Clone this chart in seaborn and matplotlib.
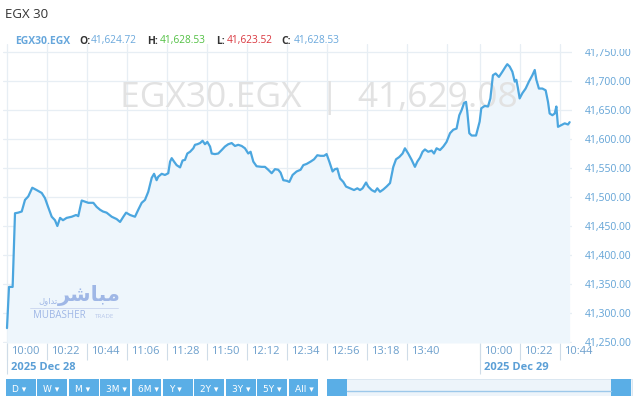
import numpy as np
import pandas as pd
import matplotlib
matplotlib.use("Agg")
import matplotlib.pyplot as plt
import matplotlib.transforms as mtransforms
from matplotlib.patches import Rectangle
import seaborn as sns

# ---------------- data ----------------
# minutes after 10:00 on 2025 Dec 28
day1_minutes = [0, 1.1, 3.1, 4.4, 6.1, 8.1, 9.9, 11.7, 13.9, 16.3, 19.1, 20.9, 22.6, 24.6, 26.4, 27.7,
                29.2, 30.8, 32.8, 35.6, 38.0, 39.2, 41.1, 42.9, 44.7, 47.5, 49.3, 51.2, 52.8, 54.8,
                57.6, 60.3, 62.2, 64.0, 65.5, 67.7, 70.4, 72.2, 74.1, 75.9, 77.7, 79.6, 80.9, 82.3,
                83.2, 85.1, 86.9, 88.7, 89.7, 90.6, 91.9, 93.3, 95.2, 96.6, 97.9, 99.2, 100.7, 102.5,
                103.4, 104.7, 106.2, 107.6, 108.9, 110.2, 111.7, 112.6, 114.4, 116.2, 118.1, 119.9,
                121.7, 123.6, 125.4, 127.2, 129.1, 130.9, 132.7, 134.0, 135.5, 137.3, 140.1, 141.9,
                143.7, 145.6, 147.4, 149.2, 150.5, 152.0, 153.8, 155.3, 157.1, 159.3, 161.5, 163.0,
                164.8, 167.0, 168.9, 170.7, 172.5, 174.4, 175.8, 177.3, 179.1, 180.4, 181.7, 183.2,
                185.0, 186.5, 188.7, 190.9, 192.7, 194.2, 195.6, 197.5, 198.7, 200.6, 202.4, 203.7,
                205.2, 207.0, 208.8, 210.7, 212.5, 214.0, 215.8, 217.6, 218.9, 220.7, 222.6, 224.4,
                225.7, 227.2, 228.6, 229.9, 231.7, 233.6, 234.9, 236.3, 238.2, 240.0, 241.8, 243.7,
                245.5, 247.3, 248.8, 250.1, 251.4, 252.5, 253.2, 254.3, 255.6, 258.0]
day1_values = [41274, 41345, 41345, 41472, 41473, 41475, 41495, 41501, 41516, 41512, 41507, 41498,
               41483, 41466, 41460, 41450, 41464, 41460, 41464, 41466, 41469, 41467, 41494, 41492,
               41490, 41490, 41483, 41478, 41475, 41473, 41466, 41462, 41457, 41466, 41473, 41469,
               41466, 41478, 41490, 41495, 41509, 41533, 41540, 41529, 41535, 41540, 41538, 41541,
               41561, 41567, 41561, 41555, 41551, 41563, 41564, 41575, 41578, 41584, 41590, 41591,
               41593, 41597, 41591, 41595, 41587, 41575, 41574, 41575, 41581, 41587, 41591, 41593,
               41588, 41590, 41588, 41584, 41575, 41578, 41561, 41553, 41552, 41552, 41547, 41541,
               41548, 41547, 41542, 41529, 41528, 41526, 41538, 41544, 41547, 41555, 41557, 41561,
               41565, 41572, 41571, 41571, 41574, 41561, 41544, 41548, 41549, 41532, 41526, 41518,
               41515, 41512, 41515, 41512, 41515, 41525, 41518, 41512, 41509, 41515, 41509, 41513,
               41518, 41524, 41552, 41565, 41569, 41575, 41584, 41575, 41564, 41552, 41561, 41568,
               41578, 41582, 41578, 41580, 41575, 41584, 41581, 41587, 41595, 41610, 41616, 41618,
               41641, 41650, 41662, 41664, 41647, 41610, 41606, 41606]
# minutes after 10:00 on 2025 Dec 29
day2_minutes = [0, 0.9, 2.8, 4.6, 5.9, 7.3, 8.8, 10.6, 12.5, 14.3, 15.2, 16.5, 18.0, 19.3, 20.2,
                21.1, 22.0, 23.5, 25.3, 27.1, 29.0, 30.3, 31.2, 32.6, 34.5, 36.3, 37.6, 38.5, 40.0,
                41.3, 42.2, 43.1, 44.9, 46.8, 48.6, 49.5]
day2_values = [41630, 41653, 41657, 41656, 41670, 41710, 41713, 41707, 41716, 41725, 41729, 41725,
               41716, 41699, 41702, 41687, 41670, 41679, 41687, 41699, 41710, 41719, 41702, 41687,
               41687, 41684, 41664, 41644, 41641, 41644, 41656, 41621, 41624, 41627, 41625, 41629]

day1_tick_labels = ["10:00", "10:22", "10:44", "11:06", "11:28", "11:50", "12:12", "12:34",
                    "12:56", "13:18", "13:40"]
day1_tick_minutes = [0, 22, 44, 66, 88, 110, 132, 154, 176, 198, 220]
day2_tick_labels = ["10:00", "10:22", "10:44"]
day2_tick_minutes = [0, 22, 44]
date_labels = ["2025 Dec 28", "2025 Dec 29"]
y_ticks = [41250, 41300, 41350, 41400, 41450, 41500, 41550, 41600, 41650, 41700, 41750]

symbol = "EGX30.EGX"
title = "EGX 30"
ohlc_open, ohlc_high, ohlc_low, ohlc_close = "41,624.72", "41,628.53", "41,623.52", "41,628.53"
last_price = "41,629.08"
range_buttons = ["D", "W", "M", "3M", "6M", "Y", "2Y", "3Y", "5Y", "All"]

# ---------------- layout constants ----------------
DAY2_OFFSET = 260        # ordinal gap compression: day 2 10:00 sits here on the axis
W, H = 640, 396
LINE = "#4ba6df"
FILL = "#eef6fc"
GRID = "#e7eef4"
LABEL = "#62a3d6"

df = pd.DataFrame({
    "t": list(day1_minutes) + [DAY2_OFFSET + m for m in day2_minutes],
    "v": list(day1_values) + list(day2_values),
})

sns.set_theme(style="white")
plt.rcParams["font.family"] = ["Open Sans", "DejaVu Sans"]

fig = plt.figure(figsize=(W / 100, H / 100), dpi=100)
fig.patch.set_facecolor("white")

def fx(px):
    return px / W

def fy(py):
    return 1 - py / H

ax = fig.add_axes([fx(3), fy(343), fx(572) - fx(3), fy(44) - fy(343)])
ax.set_facecolor("white")

xmin, xmax = -2.2, 310.8
ymin, ymax = 41248.3, 41763.8
ax.set_xlim(xmin, xmax)
ax.set_ylim(ymin, ymax)

ax.fill_between(df["t"], df["v"], ymin, color=FILL, zorder=1, linewidth=0)
sns.lineplot(data=df, x="t", y="v", ax=ax, color=LINE, linewidth=1.6, zorder=3, sort=False)
ax.set_xlabel("")
ax.set_ylabel("")

# watermark
ax.text(0.555, 0.82, f"{symbol}  |  {last_price}", transform=ax.transAxes, ha="center",
        va="center", fontsize=25.5, color="#e2e2e2", zorder=2)

# grid
ax.set_yticks(y_ticks)
major_x = list(day1_tick_minutes) + [DAY2_OFFSET + m for m in day2_tick_minutes]
ax.set_xticks(major_x)
ax.set_xticklabels(list(day1_tick_labels) + list(day2_tick_labels))
grid_x = major_x + [242]
for gx in grid_x:
    ax.axvline(gx, color=GRID, linewidth=0.9, zorder=0)
for gy in y_ticks:
    ax.axhline(gy, color=GRID, linewidth=0.9, zorder=0)
ax.grid(False)

for s in ax.spines.values():
    s.set_visible(False)

# y axis on the right
ax.yaxis.tick_right()
ax.set_yticklabels([f"{v:,.2f}" for v in y_ticks])
ax.tick_params(axis="y", length=0, pad=9, labelsize=7.5, labelcolor=LABEL)

# x tick separators + labels (left aligned next to the separator)
ax.tick_params(axis="x", which="both", bottom=True, top=False)
ax.tick_params(axis="x", which="major", direction="out", length=12, width=0.8,
               color="#cfdce8", pad=-10, labelsize=8, labelcolor="#6c9fcc")
off = mtransforms.ScaledTranslation(3 / 72, 0, fig.dpi_scale_trans)
for lbl in ax.get_xticklabels():
    lbl.set_horizontalalignment("left")
    lbl.set_transform(lbl.get_transform() + off)

ax.xaxis.remove_overlapping_locs = False
ax.set_xticks([0, DAY2_OFFSET], minor=True)
ax.set_xticklabels(date_labels, minor=True, fontweight="bold")
ax.tick_params(axis="x", which="minor", direction="out", length=22, width=0.8,
               color="#cfdce8", pad=-8.5, labelsize=8, labelcolor="#5b9fd6")
for lbl in ax.get_xticklabels(minor=True):
    lbl.set_horizontalalignment("left")
    lbl.set_transform(lbl.get_transform() + off)

# white band hiding top of axes region (header area)
fig.add_artist(Rectangle((fx(574), fy(49)), fx(640) - fx(574), fy(0) - fy(49),
                         transform=fig.transFigure, facecolor="white", edgecolor="none", zorder=5))

# header
fig.text(fx(5), fy(14), title, fontsize=9.5, color="#333333", va="center", ha="left")
hy = fy(41)
fig.text(fx(15), hy, symbol, fontsize=7.5, color="#67a7dc", fontweight="bold", va="center")
items = [(79, "O", 91, ohlc_open, "#6aa8dc"), (147, "H", 160, ohlc_high, "#52c043"),
         (216, "L", 227, ohlc_low, "#d9363e"), (281, "C", 294, ohlc_close, "#6aa8dc")]
for lx, ltxt, vx, vtxt, vcol in items:
    fig.text(fx(lx), hy, ltxt + ":", fontsize=7.5, color="#333333", fontweight="bold", va="center")
    fig.text(fx(vx), hy, vtxt, fontsize=7.3, color=vcol, va="center")

# logo watermark
logo_col = "#9fb7e6"
fig.text(fx(58), fy(295), "\ufeae\ufeb7\ufe8e\ufe92\ufee3", fontsize=15, color=logo_col,
         family=["DejaVu Sans"], fontweight="bold", va="center", ha="left", zorder=4)
fig.text(fx(38), fy(301), "\ufedd\ufeed\ufe8d\ufeaa\ufe97", fontsize=6, color=logo_col,
         family=["DejaVu Sans"], va="center", ha="left", zorder=4)
fig.add_artist(plt.Line2D([fx(30), fx(118)], [fy(308), fy(308)], transform=fig.transFigure,
                          color="#c8d4ee", linewidth=0.6, zorder=4))
fig.text(fx(33), fy(316), "MUBASHER", fontsize=7, color=logo_col, va="center", ha="left", zorder=4)
fig.text(fx(95), fy(316), "TRADE", fontsize=4.5, color="#b8c8ea", va="center", ha="left", zorder=4)

# range buttons
BTN = "#5aaee6"
bx0, bw = 6, 31.4
for i, b in enumerate(range_buttons):
    x0 = bx0 + i * bw
    fig.add_artist(Rectangle((fx(x0), fy(396)), fx(bw - 1.5), fy(379) - fy(396),
                             transform=fig.transFigure, facecolor=BTN, edgecolor="none"))
    fig.text(fx(x0 + 6), fy(390), b + " \u25be", fontsize=6.5, color="white", va="center",
             ha="left", family=["DejaVu Sans"])

# navigator
fig.add_artist(Rectangle((fx(327), fy(396)), fx(632 - 327), fy(379) - fy(396),
                         transform=fig.transFigure, facecolor="#edf4fa", edgecolor="#d6e4f0",
                         linewidth=0.6))
fig.add_artist(plt.Line2D([fx(347), fx(611)], [fy(391), fy(391)], transform=fig.transFigure,
                          color="#9cc8ea", linewidth=1.0))
for hx in (327, 611):
    fig.add_artist(Rectangle((fx(hx), fy(396)), fx(20), fy(379) - fy(396),
                             transform=fig.transFigure, facecolor=BTN, edgecolor="none"))

fig.savefig("out.png", dpi=100, facecolor="white")
